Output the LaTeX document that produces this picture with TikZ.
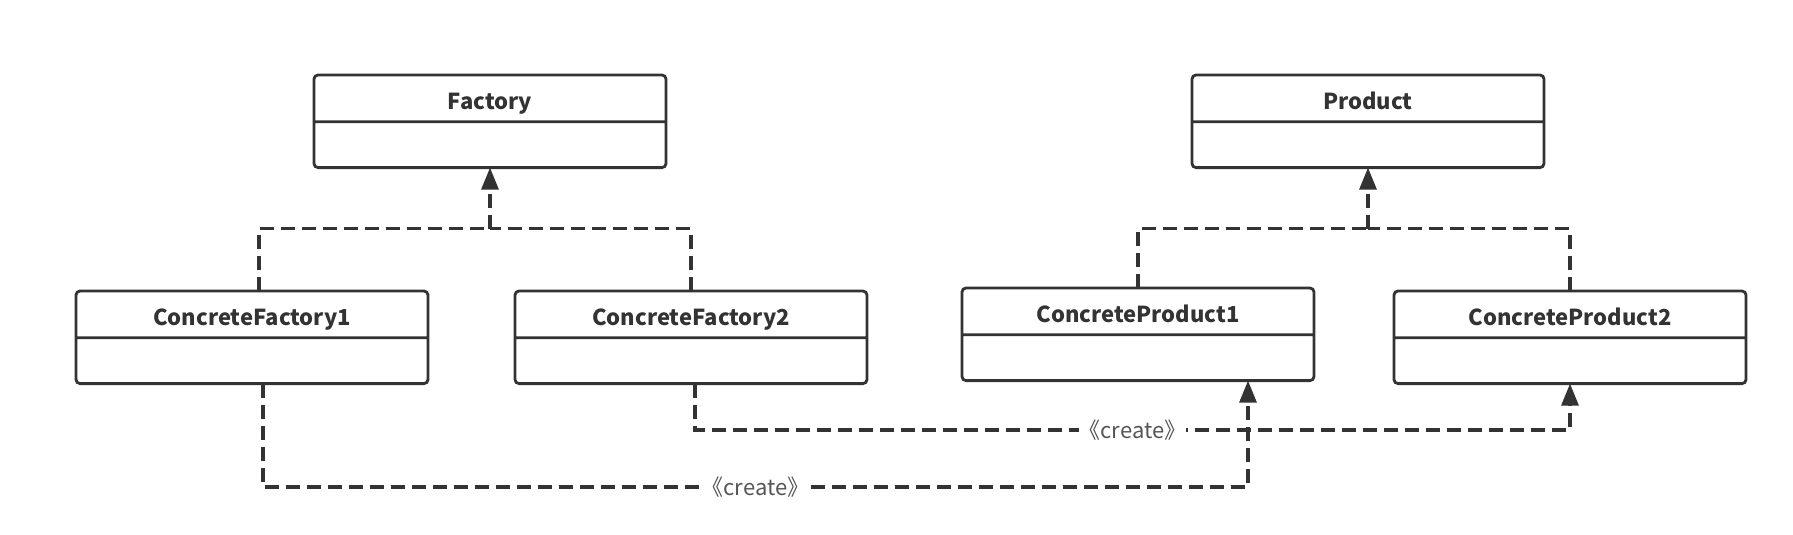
\documentclass[tikz,border=0pt]{standalone}
\usepackage{fontspec}
\setmainfont{Noto Sans CJK SC}
\usetikzlibrary{arrows.meta,shapes.multipart,positioning}
\definecolor{linegray}{HTML}{333333}
\definecolor{labelgray}{HTML}{555555}
\newcommand{\umlclass}[1]{\rule[-11pt]{0pt}{44pt}#1\nodepart{two}\rule{0pt}{43pt}}

\begin{document}
\begin{tikzpicture} [
		x=1pt, y=-1pt,
		classbox/.style = { rectangle split, rectangle split parts=2, draw=linegray,
			line width=2.8pt, rounded corners=4pt, minimum width=352pt,
			inner xsep=0pt, inner ysep=0pt, outer sep=0pt, text=linegray,
			font=\fontsize{22}{26}\selectfont\bfseries },
		dashline/.style = { draw=linegray, line width=3.1pt, dash pattern=on 14pt off 7pt },
		realize/.style  = { dashline, -{Triangle[length=22pt,width=17pt]} },
		createlabel/.style = { fill=white, inner sep=0pt, text=labelgray,
			font=\fontsize{22}{26}\selectfont },
	]
	\useasboundingbox (0,0) rectangle (1793,535);
	% Define nodes
	\begin{scope}
		\node [classbox, anchor=north] (factory) at (490,75) {\umlclass{Factory}};
		\node [classbox, right=526pt of factory] (product) {\umlclass{Product}};
		\node [classbox, anchor=north] (cf1) at (252,291) {\umlclass{ConcreteFactory1}};
		\node [classbox, right=87pt of cf1] (cf2) {\umlclass{ConcreteFactory2}};
		\node [classbox, right=95pt of cf2, yshift=3pt] (cp1) {\umlclass{ConcreteProduct1}};
		\node [classbox, right=80pt of cp1, yshift=-3pt] (cp2) {\umlclass{ConcreteProduct2}};
		\coordinate [below=61pt of factory.south] (fjoin);
		\coordinate [below=61pt of product.south] (pjoin);
		\coordinate (highline) at (0,430);
		\coordinate (lowline) at (0,487);
	\end{scope}
	% connect all nodes defined above
	\begin{scope}
		\path [dashline] ([xshift=7pt]cf1.north) |- (fjoin);
		\path [dashline] (cf2.north) |- (fjoin);
		\path [realize] (fjoin) -- (factory.south);
		\path [dashline] (cp1.north) |- (pjoin);
		\path [dashline] (cp2.north) |- (pjoin);
		\path [realize] (pjoin) -- (product.south);
		\path [realize] ([xshift=4pt]cf2.south) |- node [createlabel, pos=0.75] {《create》} (cp2.south |- highline) -- (cp2.south);
		\path [realize] ([xshift=11pt]cf1.south) |- node [createlabel, pos=0.75] {《create》} ([xshift=110pt]cp1.south |- lowline) -- ([xshift=110pt]cp1.south);
	\end{scope}
\end{tikzpicture}
\end{document}
